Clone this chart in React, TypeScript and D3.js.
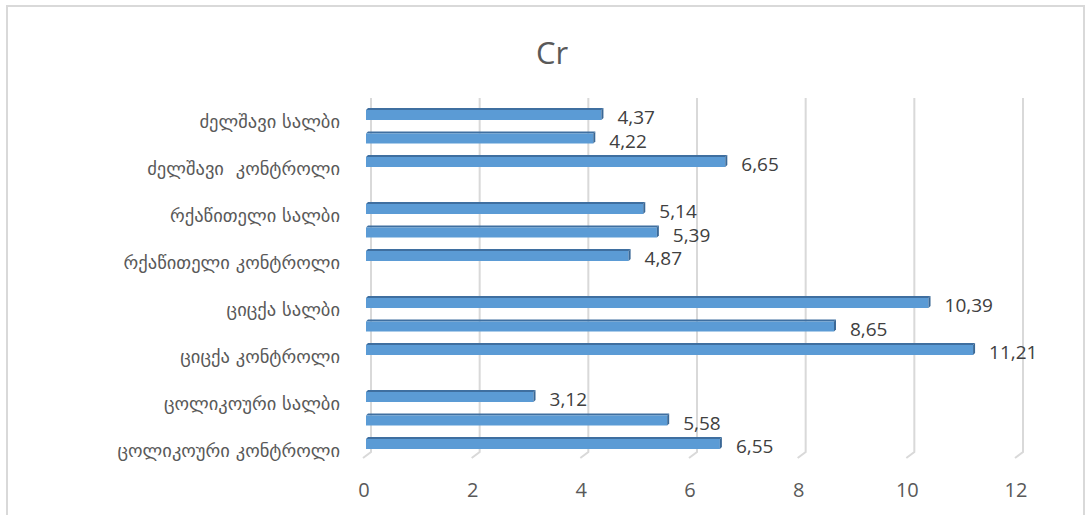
import React from "react";
import * as d3 from "d3";

// Categories from bottom to top (empty strings = unlabeled / gap rows)
const categories: string[] = [
  "ცოლიკოური კონტროლი",
  "",
  "ცოლიკოური სალბი",
  "",
  "ციცქა კონტროლი",
  "",
  "ციცქა სალბი",
  "",
  "რქაწითელი კონტროლი",
  "",
  "რქაწითელი სალბი",
  "",
  "ძელშავი  კონტროლი",
  "",
  "ძელშავი სალბი",
  "",
];
const values: (number | null)[] = [
  6.55, 5.58, 3.12, null,
  11.21, 8.65, 10.39, null,
  4.87, 5.39, 5.14, null,
  6.65, 4.22, 4.37, null,
];
const xTicks: number[] = [0, 2, 4, 6, 8, 10, 12];
const title = "Cr";

const W = 1091;
const H = 515;

export default function App() {
  const x = d3.scaleLinear().domain([0, 12]).range([366, 1018]);
  const idx = categories.map((_, i) => i);
  const y = d3.scaleBand<number>().domain(idx).range([454.75, 78.75]).padding(0);
  const cy = (i: number) => (y(i) as number) + y.bandwidth() / 2;
  const fmt = (v: number) => v.toFixed(2).replace(".", ",");
  const gridTop = 98;
  const gridBottom = 452;

  return (
    <svg
      width={W}
      height={H}
      style={{ position: "absolute", left: 0, top: 0, background: "#fff" }}
    >
      <rect x={7} y={6} width={1077} height={515} fill="#fff" stroke="#D9D9D9" strokeWidth={2} />
      <text
        x={552}
        y={52}
        textAnchor="middle"
        dominantBaseline="central"
        fontFamily="'Open Sans', 'Liberation Sans', sans-serif"
        fontSize={31}
        fill="#595959"
      >
        {title}
      </text>
      {/* gridlines (back wall + floor diagonal) */}
      {xTicks.map((t) => (
        <path
          key={"g" + t}
          d={`M${x(t) + 5},${gridTop} L${x(t) + 5},${gridBottom} L${x(t) - 3},${gridBottom + 6}`}
          fill="none"
          stroke="#D9D9D9"
          strokeWidth={2}
        />
      ))}
      {/* tick labels */}
      {xTicks.map((t) => (
        <text
          key={"t" + t}
          x={x(t) - 2}
          y={489}
          textAnchor="middle"
          dominantBaseline="central"
          fontFamily="'Open Sans', 'Liberation Sans', sans-serif"
          fontSize={20}
          fill="#595959"
        >
          {t}
        </text>
      ))}
      {/* bars */}
      {values.map((v, i) => {
        if (v == null) return null;
        const c = cy(i);
        const x0 = x(0);
        const x1 = x(v);
        const top = c - 4;
        const bot = c + 6;
        return (
          <g key={"b" + i}>
            <polygon
              points={`${x0 + 2},${top - 2} ${x1},${top - 2} ${x1 - 2},${top} ${x0},${top}`}
              fill="#3F6FA0"
            />
            <rect x={x0} y={top} width={x1 - x0 - 2} height={bot - top} fill="#5B9BD5" />
            <polygon
              points={`${x1 - 2},${top} ${x1},${top - 2} ${x1},${bot - 2} ${x1 - 2},${bot}`}
              fill="#3A6896"
            />
          </g>
        );
      })}
      {/* value labels */}
      {values.map((v, i) =>
        v == null ? null : (
          <text
            key={"v" + i}
            x={x(v) + 14}
            y={cy(i) + 3}
            dominantBaseline="central"
            fontFamily="'Open Sans', 'Liberation Sans', sans-serif"
            fontSize={19}
            fill="#404040"
          >
            {fmt(v)}
          </text>
        )
      )}
      {/* category labels */}
      {categories.map((c, i) =>
        c ? (
          <text
            key={"c" + i}
            x={340}
            y={cy(i) + 7}
            textAnchor="end"
            dominantBaseline="central"
            fontFamily="'DejaVu Sans', sans-serif"
            fontSize={18.5}
            fill="#595959"
            style={{ whiteSpace: "pre" }}
          >
            {c}
          </text>
        ) : null
      )}
    </svg>
  );
}
